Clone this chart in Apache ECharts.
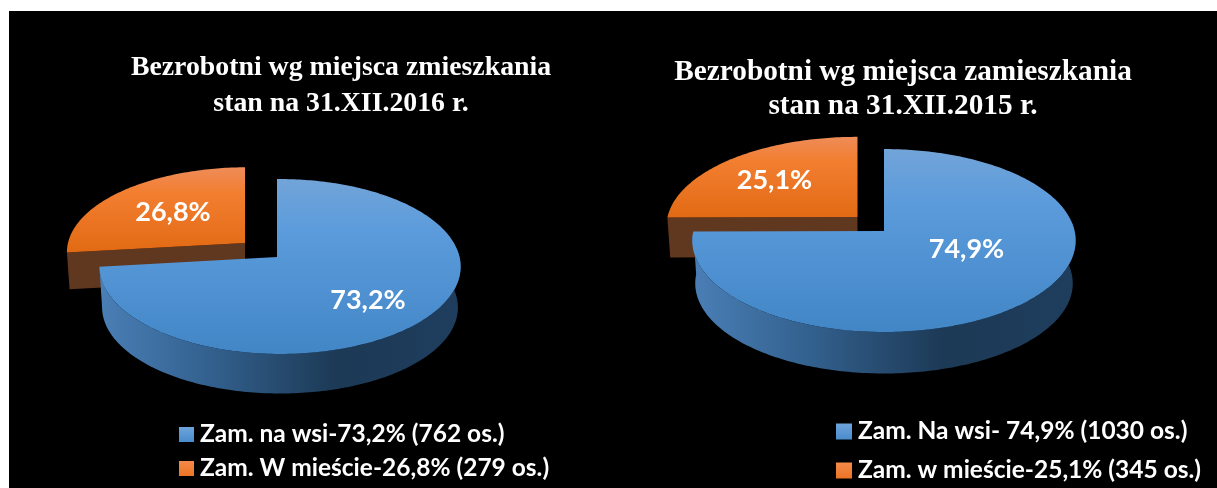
<!DOCTYPE html>
<html>
<head>
<meta charset="utf-8">
<style>html,body{margin:0;padding:0;background:#fff}#c{width:1217px;height:488px}</style>
<script src="https://cdn.jsdelivr.net/npm/echarts@6/dist/echarts.min.js"></script>
</head>
<body>
<div id="c"></div>
<script>
const labels2016 = ['Zam. na wsi-73,2% (762 os.)', 'Zam. W mieście-26,8% (279 os.)'];
const values2016 = [73.2, 26.8];
const text2016 = ['73,2%', '26,8%'];
const title2016 = 'Bezrobotni wg miejsca zmieszkania\nstan na 31.XII.2016 r.';

const labels2015 = ['Zam. Na wsi- 74,9% (1030 os.)', 'Zam. w mieście-25,1% (345 os.)'];
const values2015 = [74.9, 25.1];
const text2015 = ['74,9%', '25,1%'];
const title2015 = 'Bezrobotni wg miejsca zamieszkania\nstan na 31.XII.2015 r.';

// Projection of each exploded slice's disc (layout, not data)
const geo2016 = [
  {cx: 277, cy: 257, rx: 179.5, ry: 86.4, k: 0.1086, j: 0.0167, depth: 41, shrink: 0.985, lx: 368, ly: 300},
  {cx: 245, cy: 243, rx: 180, ry: 84, k: 0.1086, j: 0.0167, depth: 37, shrink: 0.985, lx: 173, ly: 212}
];
const geo2015 = [
  {cx: 884, cy: 231, rx: 190.6, ry: 90.5, k: 0.104, j: 0, depth: 43, shrink: 0.985, lx: 966.5, ly: 249},
  {cx: 857.5, cy: 217, rx: 190, ry: 88.5, k: 0.104, j: 0, depth: 40, shrink: 0.985, lx: 774.5, ly: 180}
];

const LG = (x0, y0, x1, y1, stops) => new echarts.graphic.LinearGradient(x0, y0, x1, y1,
  stops.map(s => ({offset: s[0], color: s[1]})));
const blueTop = () => LG(0, 0, 0, 1, [[0, '#72a4d8'], [0.3, '#5b9bdc'], [1, '#4286c6']]);
const orangeTop = () => LG(0, 0, 0, 1, [[0, '#ee8c58'], [0.3, '#f27e30'], [1, '#e26a14']]);
const blueWall = () => LG(0, 0, 1, 0, [[0, '#4a7fb6'], [0.3, '#33618f'], [0.66, '#1c3955'], [1, '#1f3e5e']]);
const brownWall = '#60371f';

function project(g, deg, scale, dy) {
  const t = deg * Math.PI / 180, u = Math.sin(t), v = -Math.cos(t);
  const d = 1 - g.k * v - g.j * u;
  return [g.cx + scale * g.rx * u / d, g.cy + dy + scale * g.ry * v / d];
}
function rim(g, a, b, scale, dy) {
  const pts = [], n = Math.max(2, Math.ceil(Math.abs(b - a)));
  for (let i = 0; i <= n; i++) pts.push(project(g, a + (b - a) * i / n, scale, dy));
  return pts;
}

function sliceRender(values, index, geo, texts) {
  return function (params, api) {
    const total = values.reduce((s, x) => s + x, 0);
    const before = values.slice(0, index).reduce((s, x) => s + x, 0);
    const a = before / total * 360;
    const b = a + api.value(0) / total * 360;
    const g = geo[index];
    const children = [];
    if (index === 0) {
      const top = rim(g, 84, b, 1, 0);
      const bottom = rim(g, 84, b, g.shrink, g.depth).reverse();
      children.push({type: 'polygon', shape: {points: top.concat(bottom)}, style: {fill: blueWall()}});
      children.push({type: 'polygon', shape: {points: [[g.cx, g.cy]].concat(rim(g, a, b, 1, 0))}, style: {fill: blueTop()}});
    } else {
      const p = project(g, a, 1, 0), q = project(g, a, g.shrink, g.depth);
      children.push({type: 'polygon', shape: {points: [[g.cx, g.cy], p, q, [g.cx, g.cy + g.depth]]}, style: {fill: brownWall}});
      children.push({type: 'polygon', shape: {points: [[g.cx, g.cy]].concat(rim(g, a, b, 1, 0))}, style: {fill: orangeTop()}});
    }
    children.push({type: 'text', z2: 50, style: {
      text: texts[index], x: g.lx, y: g.ly, align: 'center', verticalAlign: 'middle',
      fill: '#fff', font: 'bold 27px Lato'
    }});
    return {type: 'group', children};
  };
}

function seriesFor(labels, values, geo, texts) {
  return labels.map((name, i) => ({
    type: 'custom',
    name,
    coordinateSystem: 'none',
    silent: true,
    animation: false,
    z: 3 - i,
    itemStyle: {color: i === 0 ? LG(0, 0, 0, 1, [[0, '#6ea4dc'], [1, '#4a8ccb']]) : LG(0, 0, 0, 1, [[0, '#f48a4a'], [1, '#ed7425']])},
    data: [[values[i]]],
    renderItem: sliceRender(values, i, geo, texts)
  }));
}

const titleStyle = {color: '#fff', fontFamily: 'Liberation Serif', fontWeight: 'bold'};
const legendText = {color: '#fff', fontFamily: 'Lato', fontWeight: 'bold', fontSize: 24.5, padding: [0, 0, 0, 1]};

const chart = echarts.init(document.getElementById('c'), null, {renderer: 'canvas'});
chart.setOption({
  backgroundColor: '#fff',
  animation: false,
  graphic: [{type: 'rect', z: -10, shape: {x: 9, y: 11, width: 1208, height: 477}, style: {fill: '#000'}}],
  title: [
    {text: title2016, left: 336, top: 45, textAlign: 'center', textStyle: {...titleStyle, fontSize: 27.8, lineHeight: 36}},
    {text: title2015, left: 898, top: 50, textAlign: 'center', textStyle: {...titleStyle, fontSize: 29.3, lineHeight: 34}}
  ],
  legend: [
    {data: labels2016, orient: 'vertical', left: 179, top: 422, itemWidth: 15, itemHeight: 15, itemGap: 9,
     selectedMode: false, icon: 'rect', textStyle: legendText, padding: 0},
    {data: labels2015, orient: 'vertical', left: 836, top: 419, itemWidth: 16, itemHeight: 16, itemGap: 14,
     selectedMode: false, icon: 'rect', textStyle: legendText, padding: 0}
  ],
  series: [
    ...seriesFor(labels2016, values2016, geo2016, text2016),
    ...seriesFor(labels2015, values2015, geo2015, text2015)
  ]
});
</script>
</body>
</html>
